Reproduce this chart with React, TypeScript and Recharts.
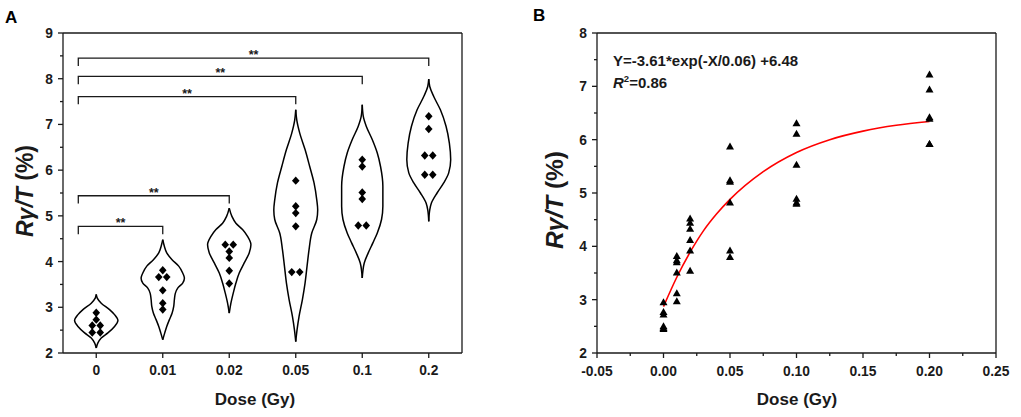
import React from "react";
import {
  ComposedChart,
  Line,
  Scatter,
  XAxis,
  YAxis,
  ReferenceLine,
} from "recharts";

const FONT = '"Liberation Sans", Arial, Helvetica, sans-serif';
const INK = "#1a1a1a";

// dose groups
const doseLabels = ["0", "0.01", "0.02", "0.05", "0.1", "0.2"];
const doseValues = [0, 0.01, 0.02, 0.05, 0.1, 0.2];

// panel A: Rγ/T (%) per dose group (diamonds)
const ratioA = [
  [2.88, 2.73, 2.6, 2.6, 2.45, 2.45],
  [3.81, 3.66, 3.66, 3.37, 3.09, 2.95],
  [4.37, 4.37, 4.22, 4.08, 3.8, 3.52],
  [5.77, 5.21, 5.06, 4.77, 3.77, 3.77],
  [6.23, 6.08, 5.51, 5.37, 4.79, 4.79],
  [7.18, 6.9, 6.32, 6.32, 5.9, 5.9],
];

// panel A: violin outlines, [value, half width in group units]
const violinProfiles = [
  [[3.28, 0], [3.2, 0.015], [3.09, 0.075], [2.95, 0.2], [2.84, 0.275], [2.71, 0.326], [2.58, 0.275], [2.44, 0.175], [2.33, 0.075], [2.22, 0.025], [2.11, 0]],
  [[4.48, 0], [4.33, 0.025], [4.19, 0.06], [4.04, 0.14], [3.9, 0.24], [3.75, 0.3], [3.64, 0.326], [3.53, 0.3], [3.42, 0.225], [3.31, 0.19], [3.17, 0.175], [3.02, 0.165], [2.87, 0.14], [2.73, 0.1], [2.58, 0.06], [2.44, 0.03], [2.29, 0]],
  [[5.17, 0], [4.99, 0.04], [4.84, 0.1], [4.7, 0.2], [4.55, 0.275], [4.37, 0.326], [4.19, 0.3], [3.97, 0.225], [3.75, 0.15], [3.53, 0.1], [3.31, 0.06], [3.09, 0.025], [2.87, 0]],
  [[7.32, 0], [7.1, 0.015], [6.81, 0.06], [6.45, 0.14], [6.08, 0.21], [5.72, 0.275], [5.35, 0.316], [5.13, 0.33], [4.92, 0.316], [4.62, 0.24], [4.26, 0.2], [3.9, 0.17], [3.53, 0.14], [3.17, 0.1], [2.8, 0.05], [2.51, 0.02], [2.25, 0]],
  [[7.43, 0], [7.18, 0.015], [6.96, 0.06], [6.67, 0.15], [6.38, 0.225], [6.08, 0.275], [5.65, 0.31], [5.21, 0.31], [4.92, 0.29], [4.62, 0.225], [4.41, 0.16], [4.19, 0.09], [3.97, 0.03], [3.64, 0]],
  [[7.99, 0], [7.83, 0.015], [7.61, 0.075], [7.32, 0.175], [6.96, 0.26], [6.59, 0.31], [6.23, 0.33], [5.94, 0.3], [5.72, 0.225], [5.5, 0.125], [5.28, 0.04], [5.13, 0.015], [4.88, 0]],
];

// panel A: significance brackets from group 0
const bracketTo = [1, 2, 3, 4, 5];
const bracketTop = [4.77, 5.44, 7.61, 8.05, 8.45];
const bracketMark = "**";

// panel B: scatter (triangles) and fitted curve
const ratioB = [
  [2.95, 2.77, 2.72, 2.5, 2.47, 2.45],
  [3.82, 3.74, 3.7, 3.51, 3.12, 2.97],
  [4.52, 4.44, 4.33, 4.12, 3.92, 3.54],
  [5.87, 5.24, 5.21, 4.82, 3.92, 3.8],
  [6.31, 6.11, 5.53, 4.89, 4.82, 4.8],
  [7.22, 6.94, 6.42, 6.39, 5.92, 5.92],
];
const fitDose = [0, 0.01, 0.02, 0.03, 0.04, 0.05, 0.075, 0.1, 0.125, 0.15, 0.175, 0.2];
const fitRatio = [2.87, 3.42, 3.89, 4.29, 4.61, 4.88, 5.4, 5.76, 6.0, 6.16, 6.27, 6.34];

const yTicksA = [2, 2.5, 3, 3.5, 4, 4.5, 5, 5.5, 6, 6.5, 7, 7.5, 8, 8.5, 9];
const yTicksB = [2, 2.5, 3, 3.5, 4, 4.5, 5, 5.5, 6, 6.5, 7, 7.5, 8];
const xTicksB = [-0.05, -0.025, 0, 0.025, 0.05, 0.075, 0.1, 0.125, 0.15, 0.175, 0.2, 0.225, 0.25];

const TICK = 5;
const MINOR = 3;
const GAP = 5;
const LABEL_SIZE = 13.8;
const PAIR_SPREAD = 0.06;
const BRACKET_START = -0.27;
const BRACKET_LEG = 0.17;

// side by side offsets for repeated values
const pairOffsets = (vals: number[]) => {
  const seen: Record<string, number> = {};
  return vals.map((v) => {
    const n = vals.filter((u) => u === v).length;
    const k = (seen[v] = (seen[v] ?? -1) + 1);
    return n > 1 ? (k - (n - 1) / 2) * 2 * PAIR_SPREAD : 0;
  });
};

const pointsA = ratioA.flatMap((vals, i) => {
  const off = pairOffsets(vals);
  return vals.map((v, k) => ({ x: i + off[k], y: v }));
});

const violinSides = violinProfiles.flatMap((prof, i) =>
  [-1, 1].map((side) => ({
    key: `violin-${i}-${side}`,
    data: prof.map(([v, w]) => ({ x: i + side * w, y: v })),
  }))
);

const bracketLines = bracketTo.map((to, j) => [
  { x: BRACKET_START, y: bracketTop[j] - BRACKET_LEG },
  { x: BRACKET_START, y: bracketTop[j] },
  { x: to, y: bracketTop[j] },
  { x: to, y: bracketTop[j] - BRACKET_LEG },
]);
const starPoints = bracketTo.map((to, j) => ({ x: (BRACKET_START + to) / 2, y: bracketTop[j] }));

const pointsB = ratioB.flatMap((vals, i) => vals.map((v) => ({ x: doseValues[i], y: v })));
const fitLine = fitDose.map((d, i) => ({ x: d, y: fitRatio[i] }));

const Diamond = (props: any) => {
  const { cx, cy } = props;
  return (
    <polygon
      points={`${cx},${cy - 4.2} ${cx + 3.8},${cy} ${cx},${cy + 4.2} ${cx - 3.8},${cy}`}
      fill="#000"
    />
  );
};

const Triangle = (props: any) => {
  const { cx, cy } = props;
  return (
    <polygon
      points={`${cx},${cy - 4} ${cx + 4},${cy + 3} ${cx - 4},${cy + 3}`}
      fill="#000"
    />
  );
};

const Stars = (props: any) => {
  const { cx, cy } = props;
  return (
    <text x={cx} y={cy + 1} textAnchor="middle" fontSize={12.5} fontWeight={700} fill={INK}>
      {bracketMark}
    </text>
  );
};

// y tick with major/minor marks
const YTick = (props: any) => {
  const { x, y, index, payload } = props;
  const axisX = x + TICK + GAP;
  const major = index % 2 === 0;
  return (
    <g>
      <line x1={axisX} x2={axisX - (major ? TICK : MINOR)} y1={y} y2={y} stroke={INK} strokeWidth={1.3} />
      {major && (
        <text x={x} y={y} dy="0.36em" textAnchor="end" fontSize={LABEL_SIZE} fontWeight={700} fill={INK}>
          {payload.value}
        </text>
      )}
    </g>
  );
};

const XTickB = (props: any) => {
  const { x, y, index, payload } = props;
  const axisY = y - TICK - 8;
  const major = index % 2 === 0;
  return (
    <g>
      <line x1={x} x2={x} y1={axisY} y2={axisY + (major ? TICK : MINOR)} stroke={INK} strokeWidth={1.3} />
      {major && (
        <text x={x} y={y} dy="0.71em" textAnchor="middle" fontSize={LABEL_SIZE} fontWeight={700} fill={INK}>
          {payload.value.toFixed(2)}
        </text>
      )}
    </g>
  );
};

const YTitle = ({ x, y, size }: { x: number; y: number; size: number }) => (
  <text
    x={x}
    y={y}
    transform={`rotate(-90 ${x} ${y})`}
    textAnchor="middle"
    fontSize={size}
    fontWeight={700}
    fill={INK}
  >
    <tspan fontStyle="italic">Rγ/T</tspan>
    <tspan> (%)</tspan>
  </text>
);

const XTitle = ({ x }: { x: number }) => (
  <text x={x} y={405} textAnchor="middle" fontSize={17} fontWeight={700} fill={INK}>
    Dose (Gy)
  </text>
);

const axisLine = { stroke: INK, strokeWidth: 1.3 };

const ViolinPanel = () => (
  <ComposedChart width={510} height={417} margin={{ top: 33, right: 48, bottom: 0, left: 0 }}>
    <XAxis
      dataKey="x"
      type="number"
      domain={[-0.5, 5.5]}
      allowDataOverflow
      ticks={[0, 1, 2, 3, 4, 5]}
      interval={0}
      tickFormatter={(v: number) => doseLabels[v]}
      height={64}
      tickSize={TICK}
      tickMargin={7}
      axisLine={axisLine}
      tickLine={axisLine}
      tick={{ fontSize: LABEL_SIZE, fontWeight: 700, fill: INK }}
    />
    <YAxis
      type="number"
      domain={[2, 9]}
      allowDataOverflow
      ticks={yTicksA}
      interval={0}
      width={63}
      tickSize={TICK}
      tickMargin={GAP}
      tickLine={false}
      axisLine={axisLine}
      tick={(p: any) => <YTick {...p} />}
    />
    <ReferenceLine y={9} stroke={INK} strokeWidth={1.3} />
    <ReferenceLine x={5.5} stroke={INK} strokeWidth={1.3} />
    {violinSides.map((s) => (
      <Line
        key={s.key}
        data={s.data}
        dataKey="y"
        type="monotoneY"
        stroke="#000"
        strokeWidth={1.5}
        dot={false}
        activeDot={false}
        isAnimationActive={false}
      />
    ))}
    {bracketLines.map((b, j) => (
      <Line
        key={`bracket-${j}`}
        data={b}
        dataKey="y"
        type="linear"
        stroke={INK}
        strokeWidth={1.3}
        dot={false}
        activeDot={false}
        isAnimationActive={false}
      />
    ))}
    <Scatter data={starPoints} dataKey="y" shape={Stars} isAnimationActive={false} />
    <Scatter data={pointsA} dataKey="y" shape={Diamond} isAnimationActive={false} />
    <text x={5} y={23} fontSize={17} fontWeight={700} fill="#000">A</text>
    <YTitle x={33} y={191} size={23} />
    <XTitle x={255} />
  </ComposedChart>
);

const FitPanel = () => (
  <ComposedChart width={511} height={417} margin={{ top: 33, right: 25, bottom: 0, left: 0 }}>
    <XAxis
      dataKey="x"
      type="number"
      domain={[-0.05, 0.25]}
      allowDataOverflow
      ticks={xTicksB}
      interval={0}
      height={64}
      tickSize={TICK}
      tickMargin={8}
      tickLine={false}
      axisLine={axisLine}
      tick={(p: any) => <XTickB {...p} />}
    />
    <YAxis
      type="number"
      domain={[2, 8]}
      allowDataOverflow
      ticks={yTicksB}
      interval={0}
      width={87}
      tickSize={TICK}
      tickMargin={GAP}
      tickLine={false}
      axisLine={axisLine}
      tick={(p: any) => <YTick {...p} />}
    />
    <ReferenceLine y={8} stroke={INK} strokeWidth={1.3} />
    <ReferenceLine x={0.25} stroke={INK} strokeWidth={1.3} />
    <Scatter data={pointsB} dataKey="y" shape={Triangle} isAnimationActive={false} />
    <Line
      data={fitLine}
      dataKey="y"
      type="monotone"
      stroke="#ff0000"
      strokeWidth={1.6}
      dot={false}
      activeDot={false}
      isAnimationActive={false}
    />
    <text x={103} y={66} fontSize={15} fontWeight={700} fill={INK}>
      Y=-3.61*exp(-X/0.06) +6.48
    </text>
    <text x={103} y={88} fontSize={15} fontWeight={700} fill={INK}>
      <tspan fontStyle="italic">R</tspan>
      <tspan fontSize={9.5} dy={-6.5}>2</tspan>
      <tspan dy={6.5}>=0.86</tspan>
    </text>
    <text x={23} y={21} fontSize={17} fontWeight={700} fill="#000">B</text>
    <YTitle x={53} y={200} size={24.5} />
    <XTitle x={287} />
  </ComposedChart>
);

export default function App() {
  return (
    <div
      style={{
        position: "absolute",
        left: 0,
        top: 0,
        width: 1021,
        height: 417,
        display: "flex",
        background: "#fff",
        fontFamily: FONT,
      }}
    >
      <ViolinPanel />
      <FitPanel />
    </div>
  );
}
